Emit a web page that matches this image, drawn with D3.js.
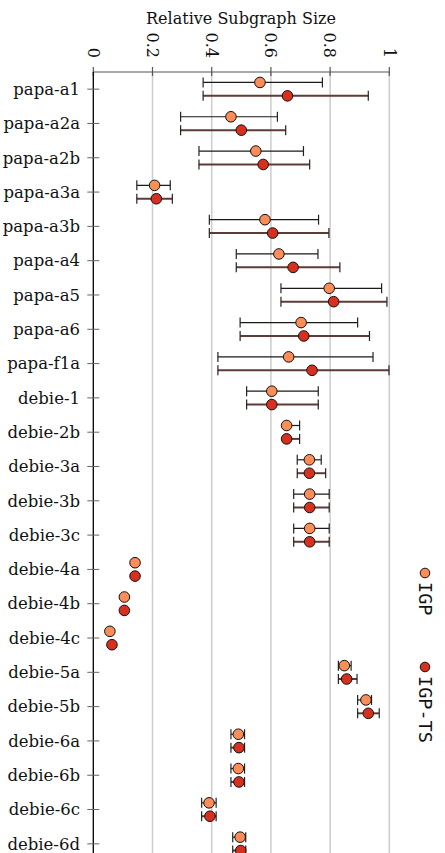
<!DOCTYPE html>
<html>
<head>
<meta charset="utf-8">
<script src="https://cdn.jsdelivr.net/npm/d3@7"></script>
<style>
  body { margin: 0; background: #fff; }
  svg { display: block; }
</style>
</head>
<body>
<div id="chart"></div>
<script>
var categories = ["papa-a1", "papa-a2a", "papa-a2b", "papa-a3a", "papa-a3b", "papa-a4", "papa-a5",
  "papa-a6", "papa-f1a", "debie-1", "debie-2b", "debie-3a", "debie-3b", "debie-3c", "debie-4a",
  "debie-4b", "debie-4c", "debie-5a", "debie-5b", "debie-6a", "debie-6b", "debie-6c", "debie-6d"];

var igpMean = [0.563, 0.465, 0.549, 0.207, 0.580, 0.627, 0.797, 0.702, 0.660, 0.603, 0.653, 0.730,
  0.731, 0.731, 0.141, 0.105, 0.056, 0.848, 0.921, 0.490, 0.490, 0.391, 0.496];
var igpLow = [0.371, 0.295, 0.357, 0.147, 0.392, 0.483, 0.634, 0.496, 0.421, 0.518, 0.653, 0.689,
  0.677, 0.677, 0.141, 0.105, 0.056, 0.828, 0.893, 0.465, 0.465, 0.366, 0.471];
var igpHigh = [0.774, 0.622, 0.710, 0.260, 0.761, 0.759, 0.974, 0.893, 0.945, 0.760, 0.697, 0.770,
  0.797, 0.797, 0.141, 0.105, 0.056, 0.871, 0.940, 0.511, 0.511, 0.415, 0.515];

var tsMean = [0.656, 0.500, 0.574, 0.213, 0.606, 0.675, 0.812, 0.711, 0.739, 0.603, 0.653, 0.730,
  0.731, 0.731, 0.141, 0.105, 0.063, 0.856, 0.929, 0.492, 0.492, 0.394, 0.498];
var tsLow = [0.371, 0.295, 0.357, 0.147, 0.392, 0.483, 0.634, 0.496, 0.421, 0.518, 0.653, 0.689,
  0.677, 0.677, 0.141, 0.105, 0.063, 0.828, 0.893, 0.465, 0.465, 0.366, 0.471];
var tsHigh = [0.929, 0.650, 0.731, 0.267, 0.796, 0.833, 0.992, 0.933, 0.999, 0.760, 0.697, 0.785,
  0.797, 0.797, 0.141, 0.105, 0.063, 0.891, 0.966, 0.511, 0.511, 0.415, 0.515];

var xTicks = [0, 0.2, 0.4, 0.6, 0.8, 1];
var seriesNames = ["IGP", "IGP-TS"];

var width = 445, height = 853;
var plotLeft = 93.3, plotRight = 389.3, plotTop = 72;

var svg = d3.select("#chart").append("svg")
  .attr("width", width)
  .attr("height", height);

var x = d3.scaleLinear().domain([0, 1]).range([plotLeft, plotRight]);
var y = d3.scaleBand().domain(categories).range([plotTop, 861]).paddingInner(0).paddingOuter(0);
var bw = y.bandwidth();

var series = [
  {name: seriesNames[0], mean: igpMean, low: igpLow, high: igpHigh, fill: "#fc8d59", line: "#1a1a1a", lw: 1.2, dy: -6.7},
  {name: seriesNames[1], mean: tsMean, low: tsLow, high: tsHigh, fill: "#d7301f", line: "#5e3b37", lw: 2, dy: 6.7}
];

// grid lines
svg.selectAll(".grid")
  .data(xTicks.filter(function(d) { return d > 0; }))
  .enter().append("line")
  .attr("x1", function(d) { return x(d); })
  .attr("x2", function(d) { return x(d); })
  .attr("y1", plotTop)
  .attr("y2", height)
  .attr("stroke", "#cccccc")
  .attr("stroke-width", 1.5);

// top axis
svg.append("line")
  .attr("x1", plotLeft).attr("x2", plotRight)
  .attr("y1", plotTop).attr("y2", plotTop)
  .attr("stroke", "#555").attr("stroke-width", 1.2);

svg.selectAll(".xtick")
  .data(xTicks)
  .enter().append("line")
  .attr("x1", function(d) { return x(d); })
  .attr("x2", function(d) { return x(d); })
  .attr("y1", plotTop - 5)
  .attr("y2", plotTop + 4)
  .attr("stroke", "#555").attr("stroke-width", 1.2);

svg.selectAll(".xlabel")
  .data(xTicks)
  .enter().append("text")
  .attr("transform", function(d) { return "translate(" + x(d) + "," + 58 + ") rotate(90)"; })
  .attr("text-anchor", "end")
  .attr("dy", "0.35em")
  .style("font-family", "DejaVu Serif")
  .style("font-size", "16px")
  .style("fill", "#111")
  .text(function(d) { return d; });

svg.append("text")
  .attr("x", 241)
  .attr("y", 24)
  .attr("text-anchor", "middle")
  .style("font-family", "DejaVu Serif")
  .style("font-size", "16px")
  .style("fill", "#111")
  .text("Relative Subgraph Size");

// left axis
svg.append("line")
  .attr("x1", plotLeft).attr("x2", plotLeft)
  .attr("y1", plotTop).attr("y2", height)
  .attr("stroke", "#000").attr("stroke-width", 1.3);

svg.selectAll(".ytick")
  .data(categories)
  .enter().append("line")
  .attr("x1", plotLeft - 6).attr("x2", plotLeft + 6)
  .attr("y1", function(d) { return y(d) + bw / 2; })
  .attr("y2", function(d) { return y(d) + bw / 2; })
  .attr("stroke", "#666").attr("stroke-width", 1);

svg.selectAll(".ylabel")
  .data(categories)
  .enter().append("text")
  .attr("x", 80)
  .attr("y", function(d) { return y(d) + bw / 2; })
  .attr("dy", "0.35em")
  .attr("text-anchor", "end")
  .style("font-family", "DejaVu Serif")
  .style("font-size", "16.5px")
  .style("fill", "#111")
  .text(function(d) { return d; });

// error bars and dots
series.forEach(function(s) {
  var g = svg.append("g");
  var cy = function(i) { return y(categories[i]) + bw / 2 + s.dy; };

  g.selectAll(".bar")
    .data(categories)
    .enter().append("line")
    .attr("x1", function(d, i) { return x(s.low[i]); })
    .attr("x2", function(d, i) { return x(s.high[i]); })
    .attr("y1", function(d, i) { return cy(i); })
    .attr("y2", function(d, i) { return cy(i); })
    .attr("stroke", s.line).attr("stroke-width", s.lw);

  ["low", "high"].forEach(function(k) {
    g.selectAll(".cap-" + k)
      .data(categories)
      .enter().append("line")
      .attr("x1", function(d, i) { return x(s[k][i]); })
      .attr("x2", function(d, i) { return x(s[k][i]); })
      .attr("y1", function(d, i) { return cy(i) - 5; })
      .attr("y2", function(d, i) { return cy(i) + 5; })
      .attr("stroke", "#222").attr("stroke-width", 1.2);
  });

  g.selectAll(".dot")
    .data(categories)
    .enter().append("circle")
    .attr("cx", function(d, i) { return x(s.mean[i]); })
    .attr("cy", function(d, i) { return cy(i); })
    .attr("r", 5.3)
    .attr("fill", s.fill)
    .attr("stroke", "#111")
    .attr("stroke-width", 1);
});

// legend
var legend = svg.selectAll(".legend")
  .data(series)
  .enter().append("g")
  .attr("transform", function(d, i) { return "translate(425," + (573 + i * 94) + ")"; });

legend.append("circle")
  .attr("r", 4.8)
  .attr("fill", function(d) { return d.fill; })
  .attr("stroke", "#111")
  .attr("stroke-width", 1);

legend.append("text")
  .attr("transform", "translate(0,9) rotate(90)")
  .attr("dy", "0.35em")
  .style("font-family", "DejaVu Sans Mono")
  .style("font-size", "18.5px")
  .style("fill", "#111")
  .text(function(d) { return d.name; });
</script>
</body>
</html>
